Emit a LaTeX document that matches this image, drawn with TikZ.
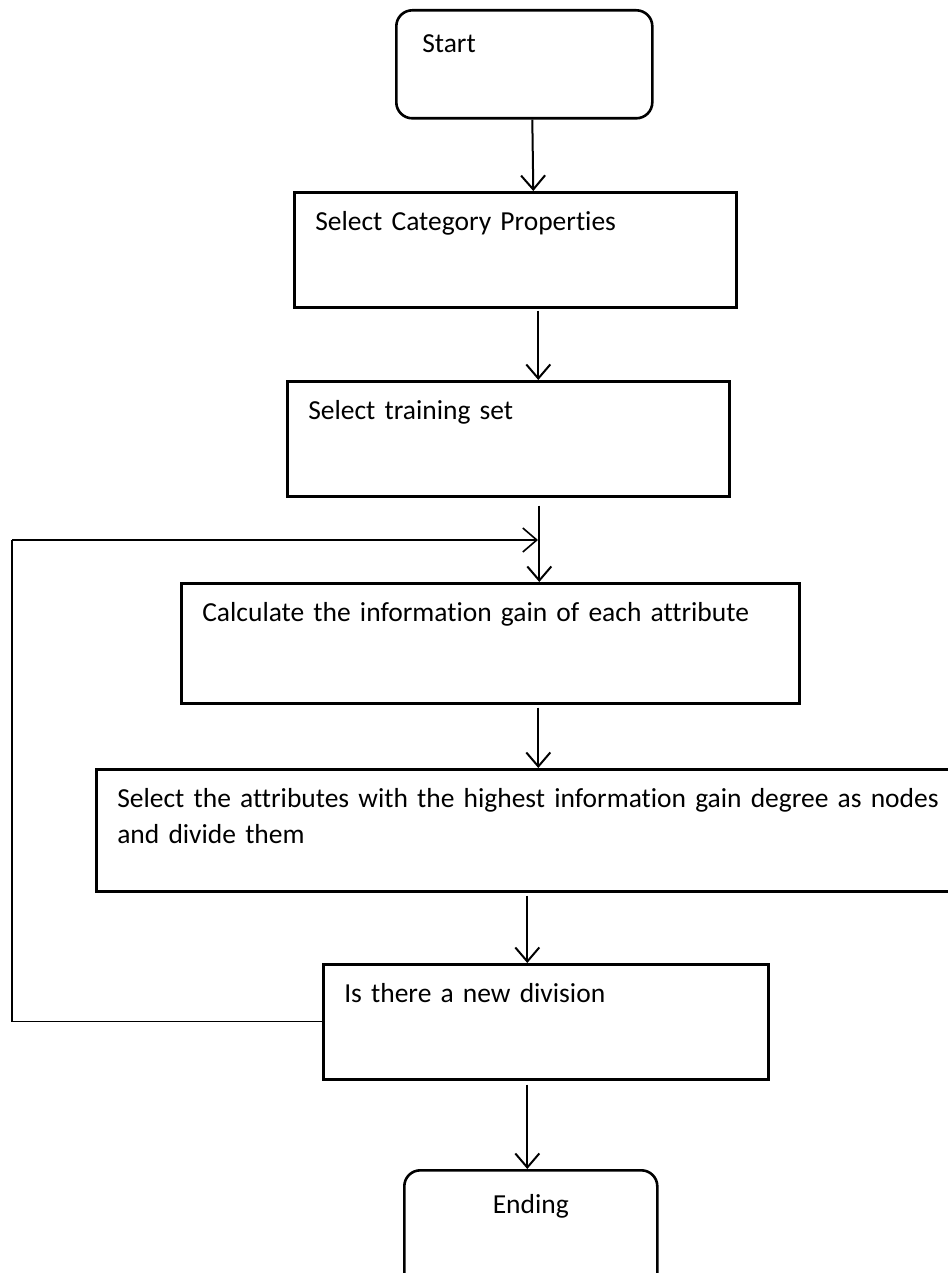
\documentclass[tikz,border=0pt]{standalone}
\usepackage{fontspec}
\setmainfont{Carlito}[Ligatures=NoCommon]
\usetikzlibrary{arrows.meta}

\tikzset{
  box/.style={draw, line width=2.6pt, anchor=north west, align=left,
    inner xsep=21pt, inner ysep=0pt, text height=38pt,
    font=\fontsize{27.5}{36}\selectfont},
  flow/.style={line width=2pt, -{Straight Barb[length=14pt,width=24pt]}},
  loopline/.style={line width=1.3pt},
}

\begin{document}
\begin{tikzpicture}[x=1pt,y=-1pt]
\useasboundingbox (0,0) rectangle (947,1273);

\node[box, rounded corners=16pt, inner xsep=26pt, text width=204pt, text height=42pt, text depth=66pt] (start) at (395,9) {Start};
\node[box, text width=400pt, text depth=77pt] (cat) at (293,191) {Select Category Properties};
\node[box, text width=400pt, text depth=77pt] (train) at (286,380) {Select training set};
\node[box, text width=576pt, text depth=82pt] (gain) at (180,582) {Calculate the information gain of each attribute};
\node[box, text width=863pt, text depth=84pt] (sel) at (95,768) {Select the attributes with the highest information gain degree as nodes\\and divide them};
\node[box, text width=403pt, text depth=77pt] (div) at (322,963) {Is there a new division};
\node[box, rounded corners=16pt, align=center, text width=211pt, text height=43pt, text depth=90pt] (end) at (403,1169) {Ending};

\coordinate (lefttop) at (12,540);
\coordinate (join) at (538,540);

\draw[flow] ([xshift=8pt]start.south) -- ([xshift=18pt]cat.north);
\draw[flow] ([xshift=23pt,yshift=-2pt]cat.south) -- ([xshift=30pt]train.north);
\draw[flow] ([xshift=31pt,yshift=-8pt]train.south) -- ([xshift=49pt]gain.north);
\draw[flow] ([xshift=48pt,yshift=-3pt]gain.south) -- ([xshift=-10.5pt]sel.north);
\draw[flow] ([xshift=-21.5pt,yshift=-3pt]sel.south) -- ([xshift=-18.5pt]div.north);
\draw[flow] ([xshift=-18.5pt,yshift=-4pt]div.south) -- ([xshift=-3.5pt]end.north);

% loop back
\draw[loopline] (div.west) -| (lefttop);
\draw[flow, line width=1.6pt] (lefttop) -- (join);
\end{tikzpicture}
\end{document}
